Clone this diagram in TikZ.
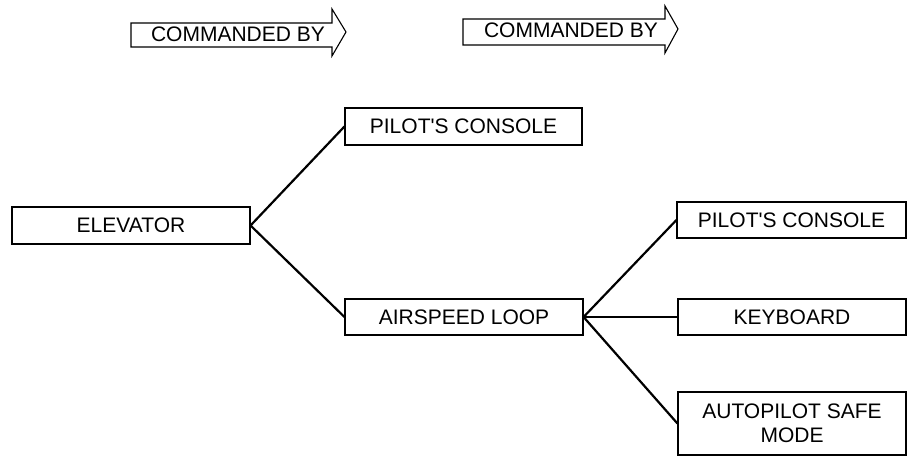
\documentclass[tikz,border=0pt]{standalone}
\usepackage{fontspec}
\setmainfont{Liberation Sans}
\begin{document}
\begin{tikzpicture}[x=1pt,y=-1pt,
  box/.style={draw=black,line width=1.1pt,inner sep=0pt,minimum height=36pt,font=\fontsize{21}{24}\selectfont,align=center},
  link/.style={line width=2.2pt},
  cmdarrow/.style={draw=black,line width=1.1pt,line join=miter},
  cmdtext/.style={inner sep=0pt,font=\fontsize{21}{24}\selectfont}]
\useasboundingbox (0,0) rectangle (915,460);
% command arrows
\draw[cmdarrow] (131,23) -- (332,23) -- (332,9) -- (346,32) -- (332,56) -- (332,47) -- (131,47) -- cycle;
\node[cmdtext] (cmd1) at (238,34) {COMMANDED BY};
\draw[cmdarrow] (463,19) -- (665,19) -- (665,6) -- (678,29) -- (665,53) -- (665,45) -- (463,45) -- cycle;
\node[cmdtext] (cmd2) at (571,30) {COMMANDED BY};
% boxes
\node[box,minimum width=238pt,minimum height=37pt] (elev) at (131,225.5) {ELEVATOR};
\node[box,minimum width=237pt,minimum height=37pt] (pc1) at (463.5,126.5) {PILOT\textquotesingle S CONSOLE};
\node[box,minimum width=238pt] (air) at (464,317) {AIRSPEED LOOP};
\node[box,minimum width=229pt] (pc2) at (791.5,220) {PILOT\textquotesingle S CONSOLE};
\node[box,minimum width=228pt] (kb) at (792,317) {KEYBOARD};
\node[box,minimum width=228pt,minimum height=63pt] (auto) at (792,423.5) {AUTOPILOT SAFE\\MODE};
% connectors
\draw[link] (elev.east) -- (pc1.west);
\draw[link] (elev.east) -- (air.west);
\draw[link] (air.east) -- (pc2.west);
\draw[link] (air.east) -- (kb.west);
\draw[link] (air.east) -- (auto.west);
\end{tikzpicture}
\end{document}
